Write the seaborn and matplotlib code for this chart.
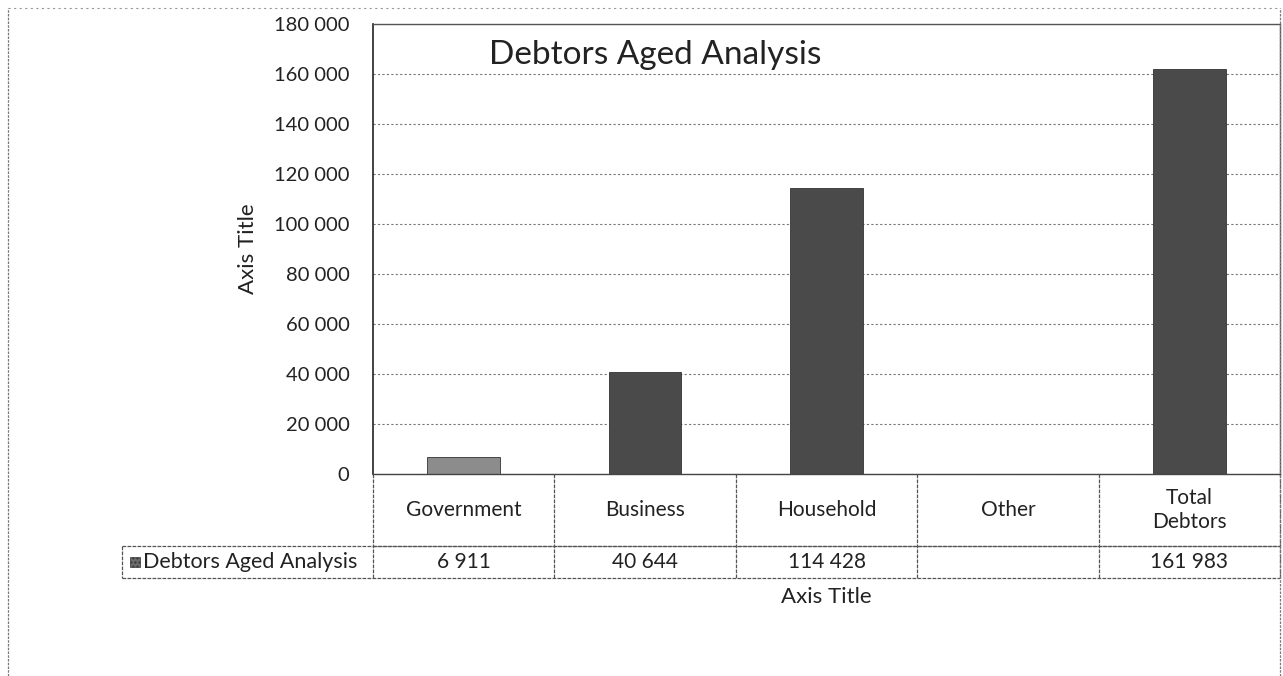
import matplotlib
matplotlib.use("Agg")
import matplotlib.pyplot as plt
import matplotlib.ticker as mticker
import numpy as np
import pandas as pd
import seaborn as sns

# ---- data ----
categories = ["Government", "Business", "Household", "Other", "Total\nDebtors"]
values = [6911, 40644, 114428, np.nan, 161983]
series_name = "Debtors Aged Analysis"
chart_title = "Debtors Aged Analysis"
y_ticks = [0, 20000, 40000, 60000, 80000, 100000, 120000, 140000, 160000, 180000]
bar_colors = ["#8c8c8c", "#4a4a4a", "#4a4a4a", "#4a4a4a", "#4a4a4a"]

sns.set_theme(style="white")
plt.rcParams['font.family'] = ['Lato', 'DejaVu Sans']

W, H = 1283, 676
fig = plt.figure(figsize=(W / 100, H / 100), dpi=100)
ax = fig.add_axes([373 / W, 1 - 474 / H, (1280 - 373) / W, (474 - 24) / H])

df = pd.DataFrame({"cat": categories, "val": values})
sns.barplot(data=df, x="cat", y="val", hue="cat", order=categories, hue_order=categories,
            palette=dict(zip(categories, bar_colors)), width=0.4, legend=False, ax=ax,
            saturation=1, edgecolor="#333333", linewidth=0.6)

ax.set_xlim(-0.5, len(categories) - 0.5)
ax.set_ylim(0, 180000)
ax.set_yticks(y_ticks)
ax.yaxis.set_major_formatter(mticker.FuncFormatter(lambda v, p: f"{int(v):,}".replace(",", " ")))
ax.tick_params(axis="y", labelsize=14.5, length=0, pad=17, colors="#222222")
ax.set_xticks([])
ax.set_xlabel("")
ax.set_ylabel("Axis Title", fontsize=16, color="#222222")
ax.yaxis.set_label_coords(-0.127, 0.5)
ax.set_axisbelow(True)
ax.grid(axis="y", color="#777777", linestyle=(0, (2, 2)), linewidth=0.8)

for s in ["top", "right"]:
    ax.spines[s].set_color("#555555")
    ax.spines[s].set_linestyle((0, (3, 1)))
    ax.spines[s].set_linewidth(1.0)
ax.spines["left"].set_color("#222222")
ax.spines["left"].set_linewidth(1.2)
ax.spines["bottom"].set_color("#444444")
ax.spines["bottom"].set_linewidth(1.0)

ax.text((655 - 373) / 907, (474 - 64) / 450, chart_title, transform=ax.transAxes,
        ha="center", va="baseline", fontsize=24, color="#222222")

# ---- data table below the axes ----
n = len(categories)
row1 = -72 / 450
row2 = -104 / 450
label_left = (122 - 373) / 907
lc = dict(color="#555555", linewidth=0.9, linestyle=(0, (3, 1)), transform=ax.transAxes, clip_on=False)
ax.plot([0, 1], [row1, row1], **lc)
ax.plot([label_left, 1], [row1, row1], **lc)
ax.plot([label_left, 1], [row2, row2], **lc)
ax.plot([label_left, label_left], [row1, row2], **lc)
ax.plot([0, 0], [0, row2], **lc)
ax.plot([1, 1], [0, row2], **lc)
for i in range(1, n):
    ax.plot([i / n, i / n], [0, row2], **lc)

for i, (c, v) in enumerate(zip(categories, values)):
    xc = (i + 0.5) / n
    ax.text(xc, row1 / 2, c, transform=ax.transAxes, ha="center", va="center",
            fontsize=15, color="#222222", linespacing=1.3)
    txt = "" if np.isnan(v) else f"{int(v):,}".replace(",", " ")
    ax.text(xc, (row1 + row2) / 2, txt, transform=ax.transAxes, ha="center", va="center",
            fontsize=15, color="#222222")

# legend key + series name in table
ax.add_patch(plt.Rectangle((label_left + 8 / 907, (row1 + row2) / 2 - 5 / 450), 10 / 907, 10 / 450,
                           transform=ax.transAxes, clip_on=False, facecolor="#6a6a6a",
                           edgecolor="#333333", linewidth=0.5, hatch="...."))
ax.text(label_left + 21 / 907, (row1 + row2) / 2, series_name, transform=ax.transAxes,
        ha="left", va="center", fontsize=15.5, color="#222222")

ax.text(0.5, -123 / 450, "Axis Title", transform=ax.transAxes, ha="center", va="center",
        fontsize=16, color="#222222")

# outer chart frame
fig.add_artist(plt.Line2D([8 / W, 8 / W], [0, 1 - 8 / H], color="#777777", linewidth=0.9,
                          linestyle=(0, (2, 1)), transform=fig.transFigure))
fig.add_artist(plt.Line2D([8 / W, 1280 / W], [1 - 8 / H, 1 - 8 / H], color="#999999", linewidth=0.8,
                          linestyle=(0, (2, 3)), transform=fig.transFigure))
fig.add_artist(plt.Line2D([1280 / W, 1280 / W], [0, 1 - 8 / H], color="#777777", linewidth=0.9,
                          linestyle=(0, (2, 1)), transform=fig.transFigure))

fig.savefig("out.png", dpi=100)
